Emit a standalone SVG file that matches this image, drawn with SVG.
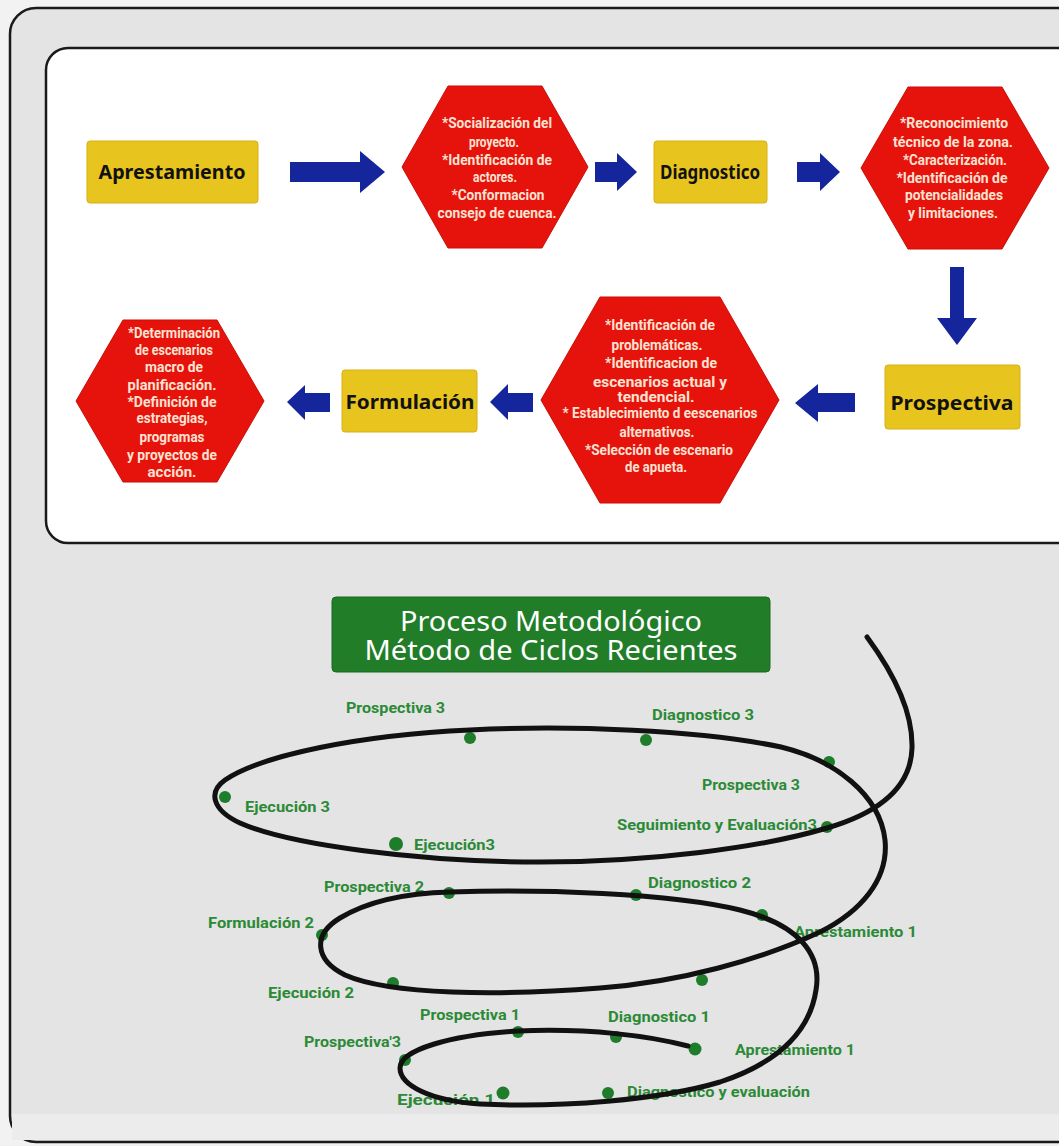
<svg xmlns="http://www.w3.org/2000/svg" width="1059" height="1146" viewBox="0 0 1059 1146">
<style>
.frame{fill:#e4e4e4;stroke:#1a1a1a;stroke-width:2.5}
.panel{fill:#ffffff;stroke:#1a1a1a;stroke-width:2.5}
.ybox{fill:#e8c41e;stroke:#d6b012;stroke-width:1}
.ylab{font-family:"Noto Sans","Liberation Sans",sans-serif;font-weight:bold;font-size:20px;fill:#111;text-anchor:middle}
.hex{fill:#e5130c;stroke:#c80f08;stroke-width:1}
.ht{font-family:"Liberation Sans Narrow","Roboto","Liberation Sans",sans-serif;font-weight:bold;font-size:14px;fill:#fde2d2;text-anchor:middle}
.arr{fill:#15259b}
.title{fill:#217d28;stroke:#186a1f;stroke-width:1}
.tt{font-family:"Noto Sans","Open Sans",sans-serif;font-size:27px;fill:#ffffff;text-anchor:middle}
.dot{fill:#1d7d2a}
.gl{font-family:"Liberation Sans Narrow","Roboto","Liberation Sans",sans-serif;font-weight:bold;font-size:14px;fill:#2b8a36}
.spiral{fill:none;stroke:#111;stroke-width:5;stroke-linecap:round;stroke-linejoin:round}
</style>
<rect x="0" y="0" width="1059" height="1146" fill="#f2f2f2"/>
<rect class="frame" x="10" y="8" width="1100" height="1134" rx="26"/>
<rect class="panel" x="46" y="48" width="1100" height="495" rx="22"/>

<g id="n-aprestamiento"><rect class="ybox" x="87" y="141" width="171" height="62" rx="3"/><text class="ylab" x="172" y="179" textLength="147" lengthAdjust="spacingAndGlyphs">Aprestamiento</text></g>
<g id="n-hex1"><polygon class="hex" points="402,167 448,86 542,86 588,167 542,248 448,248"/>
<text class="ht" x="497" y="128" textLength="110" lengthAdjust="spacingAndGlyphs">*Socialización del</text>
<text class="ht" x="494" y="147" textLength="50" lengthAdjust="spacingAndGlyphs">proyecto.</text>
<text class="ht" x="497" y="165" textLength="110" lengthAdjust="spacingAndGlyphs">*Identificación de</text>
<text class="ht" x="495" y="182" textLength="44" lengthAdjust="spacingAndGlyphs">actores.</text>
<text class="ht" x="498" y="200" textLength="93" lengthAdjust="spacingAndGlyphs">*Conformacion</text>
<text class="ht" x="497" y="218" textLength="119" lengthAdjust="spacingAndGlyphs">consejo de cuenca.</text></g>
<g id="n-diagnostico"><rect class="ybox" x="654" y="141" width="113" height="62" rx="3"/><text class="ylab" x="710" y="179" textLength="100" lengthAdjust="spacingAndGlyphs">Diagnostico</text></g>
<g id="n-hex2"><polygon class="hex" points="861,168 908,87 1002,87 1049,168 1002,249 908,249"/>
<text class="ht" x="954" y="128" textLength="108" lengthAdjust="spacingAndGlyphs">*Reconocimiento</text>
<text class="ht" x="953" y="147" textLength="120" lengthAdjust="spacingAndGlyphs">técnico de la zona.</text>
<text class="ht" x="955" y="165" textLength="104" lengthAdjust="spacingAndGlyphs">*Caracterización.</text>
<text class="ht" x="952" y="183" textLength="111" lengthAdjust="spacingAndGlyphs">*Identificación de</text>
<text class="ht" x="954" y="200" textLength="98" lengthAdjust="spacingAndGlyphs">potencialidades</text>
<text class="ht" x="953" y="218" textLength="90" lengthAdjust="spacingAndGlyphs">y limitaciones.</text></g>
<g id="n-prospectiva"><rect class="ybox" x="885" y="365" width="135" height="64" rx="3"/><text class="ylab" x="952" y="410" textLength="123" lengthAdjust="spacingAndGlyphs">Prospectiva</text></g>
<g id="n-hex3"><polygon class="hex" points="541,400 600,297 720,297 779,400 720,503 600,503"/>
<text class="ht" x="660" y="330" textLength="110" lengthAdjust="spacingAndGlyphs">*Identificación de</text>
<text class="ht" x="657" y="350" textLength="91" lengthAdjust="spacingAndGlyphs">problemáticas.</text>
<text class="ht" x="661" y="368" textLength="112" lengthAdjust="spacingAndGlyphs">*Identificacion de</text>
<text class="ht" x="660" y="387" textLength="134" lengthAdjust="spacingAndGlyphs">escenarios actual y</text>
<text class="ht" x="656" y="402" textLength="77" lengthAdjust="spacingAndGlyphs">tendencial.</text>
<text class="ht" x="660" y="418" textLength="195" lengthAdjust="spacingAndGlyphs">* Establecimiento d eescenarios</text>
<text class="ht" x="657" y="437" textLength="75" lengthAdjust="spacingAndGlyphs">alternativos.</text>
<text class="ht" x="659" y="455" textLength="148" lengthAdjust="spacingAndGlyphs">*Selección de escenario</text>
<text class="ht" x="656" y="472" textLength="62" lengthAdjust="spacingAndGlyphs">de apueta.</text></g>
<g id="n-formulacion"><rect class="ybox" x="342" y="370" width="135" height="62" rx="3"/><text class="ylab" x="410" y="409" textLength="129" lengthAdjust="spacingAndGlyphs">Formulación</text></g>
<g id="n-hex4"><polygon class="hex" points="76,401 123,320 217,320 264,401 217,482 123,482"/>
<text class="ht" x="174" y="338" textLength="92" lengthAdjust="spacingAndGlyphs">*Determinación</text>
<text class="ht" x="174" y="355" textLength="78" lengthAdjust="spacingAndGlyphs">de escenarios</text>
<text class="ht" x="174" y="372" textLength="58" lengthAdjust="spacingAndGlyphs">macro de</text>
<text class="ht" x="172" y="390" textLength="89" lengthAdjust="spacingAndGlyphs">planificación.</text>
<text class="ht" x="172" y="407" textLength="89" lengthAdjust="spacingAndGlyphs">*Definición de</text>
<text class="ht" x="172" y="423" textLength="71" lengthAdjust="spacingAndGlyphs">estrategias,</text>
<text class="ht" x="172" y="442" textLength="65" lengthAdjust="spacingAndGlyphs">programas</text>
<text class="ht" x="172" y="460" textLength="90" lengthAdjust="spacingAndGlyphs">y proyectos de</text>
<text class="ht" x="172" y="477" textLength="49" lengthAdjust="spacingAndGlyphs">acción.</text></g>

<g id="connectors">
<polygon class="arr" points="290,162 360,162 360,151 385,172 360,193 360,182 290,182"/>
<polygon class="arr" points="595,162 617,162 617,153 637,172 617,191 617,182 595,182"/>
<polygon class="arr" points="797,162 820,162 820,153 840,172 820,191 820,182 797,182"/>
<polygon class="arr" points="950,267 964,267 964,318 977,318 957,345 937,318 950,318"/>
<polygon class="arr" points="855,393 818,393 818,384 795,403 818,422 818,412 855,412"/>
<polygon class="arr" points="533,393 508,393 508,384 490,402 508,420 508,412 533,412"/>
<polygon class="arr" points="330,393 305,393 305,385 287,402 305,420 305,412 330,412"/>
</g>

<rect x="12" y="1114" width="1047" height="26" fill="#ececec"/>
<g id="title"><rect class="title" x="332" y="597" width="438" height="75" rx="4"/>
<text class="tt" x="551" y="631" textLength="302" lengthAdjust="spacingAndGlyphs">Proceso Metodológico</text>
<text class="tt" x="551" y="660" textLength="373" lengthAdjust="spacingAndGlyphs">Método de Ciclos Recientes</text></g>

<g id="dots">
<circle class="dot" cx="470" cy="738" r="6"/>
<circle class="dot" cx="646" cy="740" r="6"/>
<circle class="dot" cx="829" cy="762" r="6"/>
<circle class="dot" cx="225" cy="797" r="6"/>
<circle class="dot" cx="827" cy="827" r="6"/>
<circle class="dot" cx="396" cy="844" r="7"/>
<circle class="dot" cx="449" cy="893" r="6"/>
<circle class="dot" cx="636" cy="895" r="6"/>
<circle class="dot" cx="762" cy="915" r="6"/>
<circle class="dot" cx="322" cy="935" r="6"/>
<circle class="dot" cx="393" cy="983" r="6"/>
<circle class="dot" cx="702" cy="980" r="6"/>
<circle class="dot" cx="518" cy="1032" r="6"/>
<circle class="dot" cx="616" cy="1037" r="6"/>
<circle class="dot" cx="695" cy="1049" r="6.5"/>
<circle class="dot" cx="405" cy="1060" r="6"/>
<circle class="dot" cx="503" cy="1093" r="6.5"/>
<circle class="dot" cx="608" cy="1093" r="6"/>
</g>
<g id="labels">
<text class="gl" x="346" y="713" textLength="99" lengthAdjust="spacingAndGlyphs">Prospectiva 3</text>
<text class="gl" x="652" y="720" textLength="102" lengthAdjust="spacingAndGlyphs">Diagnostico 3</text>
<text class="gl" x="702" y="790" textLength="98" lengthAdjust="spacingAndGlyphs">Prospectiva 3</text>
<text class="gl" x="245" y="812" textLength="85" lengthAdjust="spacingAndGlyphs">Ejecución 3</text>
<text class="gl" x="617" y="830" textLength="200" lengthAdjust="spacingAndGlyphs">Seguimiento y Evaluación3</text>
<text class="gl" x="414" y="850" textLength="81" lengthAdjust="spacingAndGlyphs">Ejecución3</text>
<text class="gl" x="324" y="892" textLength="100" lengthAdjust="spacingAndGlyphs">Prospectiva 2</text>
<text class="gl" x="648" y="888" textLength="103" lengthAdjust="spacingAndGlyphs">Diagnostico 2</text>
<text class="gl" x="208" y="928" textLength="106" lengthAdjust="spacingAndGlyphs">Formulación 2</text>
<text class="gl" x="794" y="937" textLength="123" lengthAdjust="spacingAndGlyphs">Aprestamiento 1</text>
<text class="gl" x="268" y="998" textLength="86" lengthAdjust="spacingAndGlyphs">Ejecución 2</text>
<text class="gl" x="420" y="1020" textLength="100" lengthAdjust="spacingAndGlyphs">Prospectiva 1</text>
<text class="gl" x="608" y="1022" textLength="102" lengthAdjust="spacingAndGlyphs">Diagnostico 1</text>
<text class="gl" x="304" y="1047" textLength="97" lengthAdjust="spacingAndGlyphs">Prospectiva'3</text>
<text class="gl" x="735" y="1055" textLength="120" lengthAdjust="spacingAndGlyphs">Aprestamiento 1</text>
<text class="gl" x="397" y="1105" textLength="98" lengthAdjust="spacingAndGlyphs">Ejecución 1</text>
<text class="gl" x="627" y="1097" textLength="183" lengthAdjust="spacingAndGlyphs">Diagnostico y evaluación</text>
</g>
<path id="spiral" class="spiral" d="M 867,637 C 895,675 913,712 912,748 C 911,785 882,812 827,828 C 760,848 650,862 540,862 C 420,862 290,845 240,823 C 212,810 208,792 225,780 C 262,755 360,735 470,730 C 570,725 700,730 781,747 C 835,760 880,795 885,840 C 889,880 860,912 820,932 C 760,960 680,982 600,988 C 500,996 390,995 345,975 C 315,960 312,935 340,918 C 370,900 410,893 450,892 C 540,889 670,893 740,910 C 800,925 822,955 816,990 C 810,1030 780,1062 720,1082 C 660,1100 560,1108 480,1104 C 430,1101 400,1085 400,1068 C 400,1050 450,1035 518,1031 C 590,1028 650,1036 688,1046"/>
</svg>
